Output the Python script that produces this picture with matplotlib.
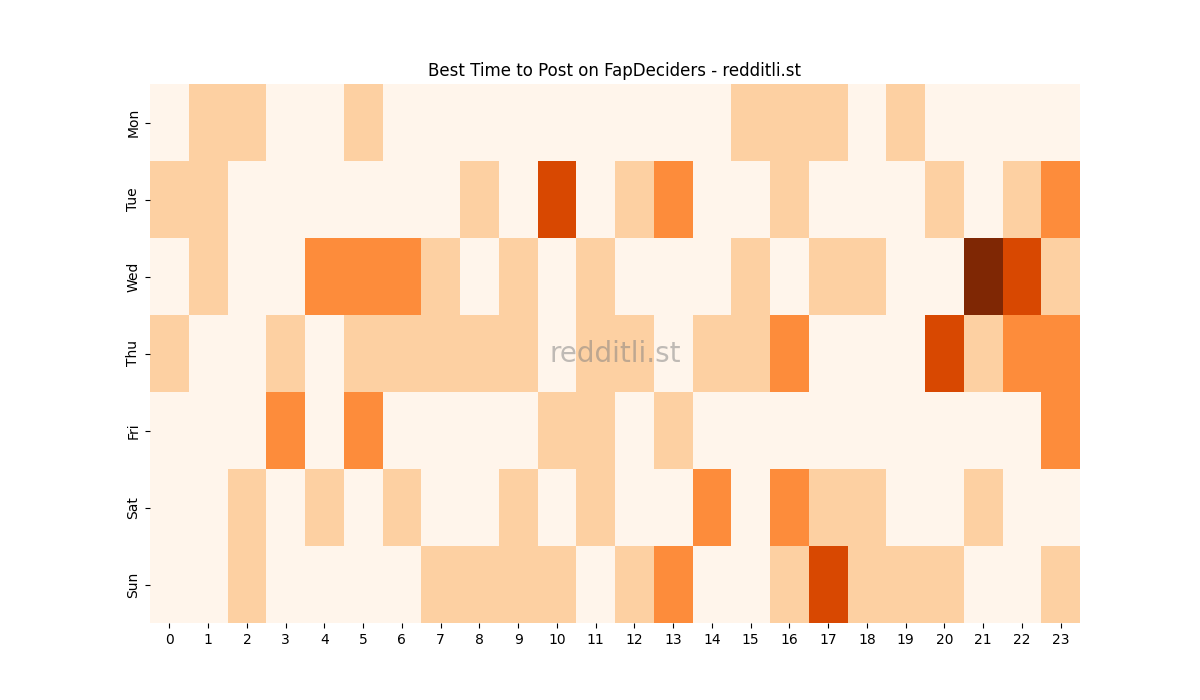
import matplotlib
matplotlib.use('Agg')
import matplotlib.pyplot as plt
import numpy as np

days = ['Mon', 'Tue', 'Wed', 'Thu', 'Fri', 'Sat', 'Sun']
hours = [str(h) for h in range(24)]

# posting score per weekday/hour (0 = lowest)
mon = [0, 1, 1, 0, 0, 1, 0, 0, 0, 0, 0, 0, 0, 0, 0, 1, 1, 1, 0, 1, 0, 0, 0, 0]
tue = [1, 1, 0, 0, 0, 0, 0, 0, 1, 0, 3, 0, 1, 2, 0, 0, 1, 0, 0, 0, 1, 0, 1, 2]
wed = [0, 1, 0, 0, 2, 2, 2, 1, 0, 1, 0, 1, 0, 0, 0, 1, 0, 1, 1, 0, 0, 4, 3, 1]
thu = [1, 0, 0, 1, 0, 1, 1, 1, 1, 1, 0, 1, 1, 0, 1, 1, 2, 0, 0, 0, 3, 1, 2, 2]
fri = [0, 0, 0, 2, 0, 2, 0, 0, 0, 0, 1, 1, 0, 1, 0, 0, 0, 0, 0, 0, 0, 0, 0, 2]
sat = [0, 0, 1, 0, 1, 0, 1, 0, 0, 1, 0, 1, 0, 0, 2, 0, 2, 1, 1, 0, 0, 1, 0, 0]
sun = [0, 0, 1, 0, 0, 0, 0, 1, 1, 1, 1, 0, 1, 2, 0, 0, 1, 3, 1, 1, 1, 0, 0, 1]

grid = np.array([mon, tue, wed, thu, fri, sat, sun])

fig, ax = plt.subplots(figsize=(12, 7), dpi=100)
ax.pcolormesh(grid, cmap='Oranges', vmin=grid.min(), vmax=grid.max())
ax.set_xlim(0, len(hours))
ax.set_ylim(len(days), 0)

ax.set_xticks(np.arange(len(hours)) + 0.5)
ax.set_xticklabels(hours)
ax.set_yticks(np.arange(len(days)) + 0.5)
ax.set_yticklabels(days, rotation=90, va='center')

for s in ax.spines.values():
    s.set_visible(False)

ax.set_title('Best Time to Post on FapDeciders - redditli.st')
ax.text(0.5, 0.5, 'redditli.st', transform=ax.transAxes, ha='center', va='center',
        fontsize=20, color='grey', alpha=0.5)

fig.savefig('out.png')
